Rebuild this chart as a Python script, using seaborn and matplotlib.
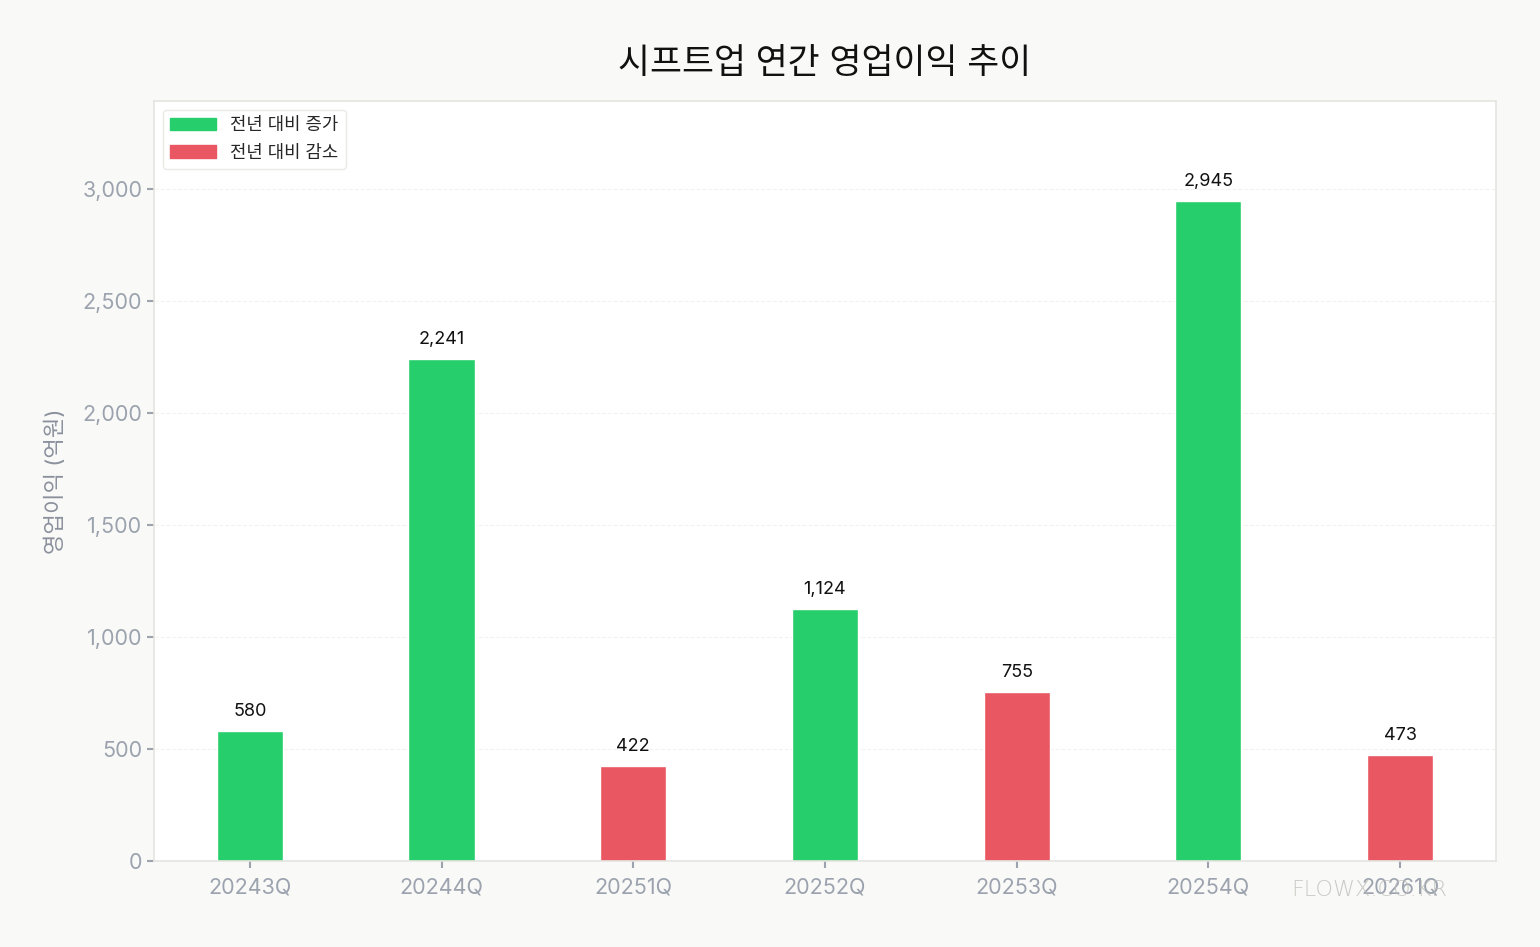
import numpy as np
import pandas as pd
import matplotlib.pyplot as plt
import seaborn as sns
from matplotlib.patches import Patch

# data
quarters = ["20243Q", "20244Q", "20251Q", "20252Q", "20253Q", "20254Q", "20261Q"]
profit = [580, 2241, 422, 1124, 755, 2945, 473]
change = ["증가", "증가", "감소", "증가", "감소", "증가", "감소"]

green = "#26CF6B"
red = "#E95763"
df = pd.DataFrame({"분기": quarters, "영업이익": profit, "변화": change})

sns.set_theme(style="white")
plt.rcParams['font.family'] = ['Inter', 'Noto Sans CJK KR', 'DejaVu Sans']

fig = plt.figure(figsize=(15.4, 9.47), dpi=100, facecolor="#F9F9F7")
ax = fig.add_axes([0.1, 0.0908, 0.8714, 0.8025])
ax.set_facecolor("white")

sns.barplot(data=df, x="분기", y="영업이익", hue="변화",
            palette={"증가": green, "감소": red}, width=0.345, saturation=1,
            dodge=False, legend=False, ax=ax)

for i, v in enumerate(profit):
    ax.text(i, v + 50, f"{v:,}", ha="center", va="bottom", fontsize=13, color="#111111")

ax.set_xlim(-0.5, len(quarters) - 0.5)
ax.set_ylim(0, 3393)
ax.set_yticks([0, 500, 1000, 1500, 2000, 2500, 3000])
ax.set_yticklabels([f"{t:,}" for t in [0, 500, 1000, 1500, 2000, 2500, 3000]])
ax.yaxis.grid(True, linestyle="--", color="#F2F2EE", linewidth=0.8)
ax.set_axisbelow(True)

for s in ax.spines.values():
    s.set_color("#E4E4DF")
    s.set_linewidth(1.2)

ax.tick_params(axis="both", colors="#9CA3AF", labelsize=15.5, length=5, width=1.5,
               labelcolor="#9CA3AF", bottom=True, left=True)
ax.tick_params(axis="x", pad=7)
ax.set_xlabel("")
ax.set_ylabel("영업이익 (억원)", fontsize=16, color="#8A909C", labelpad=12)

ax.set_title("시프트업 연간 영업이익 추이", fontsize=25, color="#111111", pad=20)

handles = [Patch(color=green, label="전년 대비 증가"), Patch(color=red, label="전년 대비 감소")]
ax.legend(handles=handles, loc="upper left", fontsize=12.8, frameon=True,
          edgecolor="#E4E4DF", handlelength=2.6, borderaxespad=0.5, labelspacing=0.6)

fig.text(0.889, 0.060, "FLOWX.CO.KR", fontsize=16, color="#BDBDBA", alpha=0.8,
         ha="center", va="center", fontweight="light", family=['DejaVu Sans'])

fig.savefig("out.png", dpi=100, facecolor=fig.get_facecolor())
